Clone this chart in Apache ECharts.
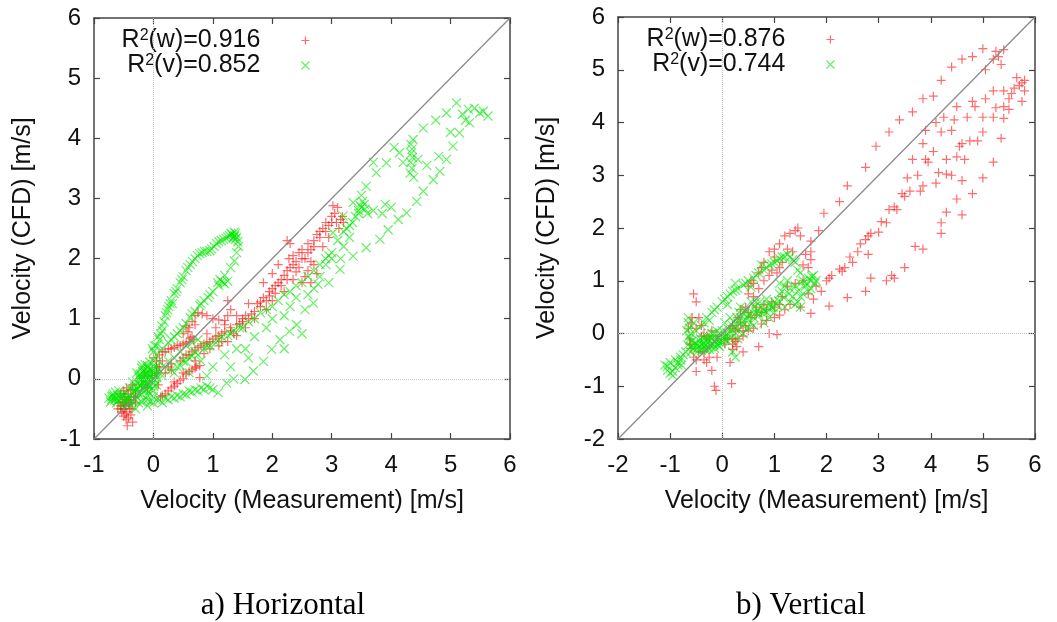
<!DOCTYPE html>
<html>
<head>
<meta charset="utf-8">
<script src="https://cdn.jsdelivr.net/npm/echarts@6/dist/echarts.min.js"></script>
<style>html,body{margin:0;padding:0;background:#fff;}#c{width:1057px;height:622px;}</style>
</head>
<body>
<div id="c"></div>
<script>
// ---------- data ----------
const seriesNames = ['w', 'v'];
const r2Left = [0.916, 0.852];
const r2Right = [0.876, 0.744];
const captions = ['a) Horizontal', 'b) Vertical'];
const xTitle = 'Velocity (Measurement) [m/s]';
const yTitle = 'Velocity (CFD) [m/s]';
const rangeLeft = [-1, 6];
const rangeRight = [-2, 6];

const leftW = [
[-0.55,-0.45],[-0.5,-0.5],[-0.45,-0.55],[-0.52,-0.38],[-0.48,-0.3],[-0.42,-0.42],[-0.4,-0.35],[-0.58,-0.4],
[-0.5,-0.62],[-0.46,-0.68],[-0.44,-0.78],[-0.38,-0.6],[-0.35,-0.72],[-0.36,-0.5],[-0.33,-0.3],[-0.3,-0.2],
[-0.38,-0.18],[-0.55,-0.25],[-0.6,-0.5],[-0.42,-0.25],[-0.35,-0.1],[-0.3,-0.4],[-0.47,-0.45],[-0.53,-0.55],
[-0.2,-0.1],[-0.15,0.05],[-0.1,-0.15],[0.0,0.05],[0.05,0.1],[0.1,0.2],[0.05,0.3],[0.0,0.35],[0.1,0.4],
[0.15,0.3],[0.2,0.1],[0.25,0.2],[0.3,0.15],[0.08,-0.1],[0.12,-0.3],[0.2,-0.25],[0.3,-0.15],[0.35,-0.05],
[0.4,-0.08],[0.5,0.0],[0.55,0.08],[0.6,0.12],[0.7,0.18],[0.78,0.22],[0.78,0.02],[0.45,0.3],[0.3,0.25],
[0.2,0.45],[0.3,0.5],[0.4,0.55],[0.5,0.58],[0.6,0.62],[0.65,0.7],[0.6,0.85],[0.65,0.95],[0.7,1.05],
[0.75,1.1],[0.82,1.08],[0.9,1.05],[1.0,1.0],[1.1,0.98],[1.2,0.97],[1.25,1.05],[1.3,1.15],[1.25,1.3],
[0.5,0.75],[0.55,0.88],[0.5,0.35],[0.6,0.4],[0.7,0.48],[0.8,0.55],[0.9,0.6],[1.0,0.66],[1.1,0.72],
[1.15,0.62],[1.2,0.78],[1.3,0.85],[1.35,0.75],[1.4,0.9],[1.5,0.95],[1.55,1.05],[1.6,1.0],[1.7,1.12],
[1.75,1.25],[1.8,1.2],[1.85,1.35],[1.9,1.3],[1.95,1.45],[2.0,1.5],[2.05,1.42],[2.1,1.6],[2.15,1.55],
[2.2,1.72],[2.25,1.65],[2.3,1.85],[2.28,2.0],[2.35,2.05],[2.4,1.95],[2.45,2.1],[2.5,2.15],[2.55,2.0],
[2.4,1.78],[2.6,2.25],[2.65,2.15],[2.7,2.3],[2.75,2.4],[2.8,2.35],[2.85,2.5],[2.9,2.45],[2.95,2.55],
[3.0,2.6],[3.05,2.75],[3.1,2.85],[3.02,2.88],[3.15,2.65],[3.2,2.6],[3.12,2.5],[2.95,2.35],[2.85,2.2],
[2.7,1.9],[2.6,1.8],[2.5,1.6],[2.65,1.6],[2.45,1.85],[2.75,1.75],[2.2,1.45],[2.0,1.3],[1.85,1.6],
[1.9,1.15],[1.7,1.0],[1.55,0.85],[1.4,0.72],[1.25,0.62],[1.1,0.55],[0.95,0.5],[0.85,0.42],[0.7,0.3],
[0.9,0.75],[1.05,0.85],[1.2,0.9],[1.4,1.05],[1.6,1.25],[2.3,2.25],[2.25,2.3],[2.0,1.75],[2.1,1.9],
[-0.5,-0.4],[-0.45,-0.35],[-0.4,-0.5],[-0.55,-0.5],[-0.48,-0.58],[-0.42,-0.65],[-0.38,-0.4],[-0.5,-0.2],
[-0.45,-0.15],[-0.3,-0.3],[0.05,0.2],[0.15,0.45],[0.25,0.5],[0.35,0.52],[0.45,0.56],[0.55,0.6],[0.62,0.68],
[0.68,0.65],[0.58,0.78],[0.7,0.9],[0.25,-0.2],[0.35,-0.12],[0.45,-0.02],[0.5,0.1],[0.65,0.15],[0.72,0.2],
[0.15,-0.28],[0.55,0.4],[0.65,0.45],[0.75,0.52],[0.85,0.58],[0.95,0.62],[1.05,0.7],[1.15,0.75],[1.3,0.8],
[1.45,0.92],[1.5,1.0],[1.65,1.08],[1.8,1.28],[1.95,1.38],[2.05,1.55],[2.15,1.65],[2.25,1.8],[2.35,1.9],
[2.5,2.0],[2.6,2.1],[2.7,2.2],[2.8,2.45],[2.9,2.6],[3.0,2.7],[3.08,2.6],[3.18,2.7],[2.55,1.7],[2.35,1.65],
[2.65,1.95]
];

const leftV = [
[-0.75,-0.32],[-0.7,-0.3],[-0.65,-0.35],[-0.6,-0.28],[-0.55,-0.33],[-0.5,-0.38],[-0.45,-0.42],[-0.4,-0.3],
[-0.35,-0.25],[-0.38,-0.45],[-0.62,-0.4],[-0.68,-0.25],[-0.58,-0.2],[-0.3,-0.35],[-0.5,-0.3],[-0.3,-0.5],
[-0.25,-0.15],[-0.2,-0.1],[-0.18,0.0],[-0.15,0.05],[-0.12,0.1],[-0.1,-0.05],[-0.08,0.0],[-0.05,0.08],
[-0.02,0.15],[0.0,0.1],[0.03,-0.02],[-0.22,0.08],[-0.15,-0.2],[-0.1,0.18],[-0.05,-0.12],[0.02,0.05],
[-0.2,-0.25],[-0.12,-0.08],[-0.08,0.12],[0.05,0.2],[-0.28,-0.05],[0.0,-0.2],[-0.15,0.15],[-0.3,-0.2],
[0.05,-0.1],[0.0,0.45],[0.02,0.55],[-0.02,0.5],[0.05,0.4],[0.0,0.3],
[0.1,0.65],[0.15,0.8],[0.18,0.95],[0.22,1.1],[0.26,1.2],[0.3,1.3],[0.35,1.42],[0.4,1.5],[0.45,1.6],
[0.5,1.7],[0.55,1.8],[0.62,1.9],[0.7,2.0],[0.78,2.08],[0.86,2.12],[0.95,2.13],[1.02,2.2],[1.1,2.28],
[1.18,2.32],[1.25,2.36],[1.32,2.4],[1.37,2.38],[1.4,2.35],[1.42,2.28],[1.43,2.2],[1.4,2.1],[1.36,1.96],
[0.12,0.75],[0.2,1.05],[0.32,1.25],[1.34,2.34],[1.38,2.42],
[1.3,1.85],[1.2,1.72],[1.15,1.62],[1.08,1.6],[1.2,1.58],[1.0,1.45],[0.92,1.35],[0.85,1.3],[0.78,1.22],
[0.7,1.12],[0.62,1.02],[0.55,0.92],[0.45,0.8],[0.35,0.7],[0.25,0.6],[0.15,0.5],
[-0.1,-0.35],[0.0,-0.4],[0.1,-0.35],[0.2,-0.32],[0.3,-0.3],[0.4,-0.28],[0.5,-0.25],[0.6,-0.2],[0.7,-0.18],
[0.8,-0.15],[0.9,-0.12],[1.0,-0.18],[1.09,-0.23],[1.23,-0.07],[1.35,0.0],[1.54,-0.01],[1.68,0.13],
[1.85,0.29],[1.99,0.49],[2.13,0.65],[2.29,0.79],[2.41,0.9],[2.55,1.15],[2.69,1.26],[2.77,1.57],[2.95,1.6],
[3.14,1.82],[3.36,2.04],[3.58,2.18],[3.81,2.32],[3.95,2.48],[4.12,2.65],[4.26,2.76],[4.43,2.95],[4.54,3.12],
[4.71,3.31],[4.82,3.45],[4.93,3.65],[5.04,3.87],[5.15,4.09],[5.32,4.26],[5.49,4.42],[5.63,4.37],[5.55,4.45],
[5.4,4.5],[5.3,4.48],[5.2,4.4],
[0.6,0.1],[0.8,0.3],[1.0,0.2],[1.2,0.4],[1.4,0.5],[1.55,0.5],[1.7,0.7],[1.9,0.85],[2.0,1.0],[2.2,1.05],
[2.3,1.2],[2.4,1.35],[2.6,1.4],[2.7,1.5],[2.8,1.7],[2.9,1.9],[3.0,2.0],[2.5,0.75],[2.2,0.5],[1.6,0.35],
[1.3,0.2],[0.9,0.05],
[0.3,0.15],[0.5,0.3],[0.7,0.45],[0.9,0.55],[1.1,0.65],[1.3,0.75],[1.5,0.85],[1.7,1.0],[1.9,1.15],[2.1,1.3],
[2.3,1.45],[2.5,1.6],[2.6,1.7],[2.8,1.9],[3.0,2.1],[3.1,2.3],[3.2,2.45],[3.3,2.55],[3.4,2.7],[3.5,2.85],
[3.55,2.9],[3.45,2.8],[3.6,2.75],[3.7,2.8],[3.85,2.75],[3.9,2.9],[4.0,2.85],[3.2,2.2],[3.3,2.35],[3.15,2.0],
[2.95,2.05],
[3.02,2.43],[3.19,2.71],[3.36,2.93],[3.58,3.2],[3.75,3.43],[3.92,3.59],[4.14,3.76],[4.37,3.98],[4.54,4.17],
[4.75,4.3],[4.93,4.42],[5.1,4.59],[3.5,3.05],[3.7,3.6],[4.05,3.85],[4.2,3.6],[4.45,3.65],[4.6,3.55],
[4.8,3.7],[5.0,4.1],[5.25,4.3],
[4.33,3.9],[4.35,3.82],[4.34,3.75],[4.36,3.68],[4.33,3.6],[4.35,3.5],[4.32,3.42],[4.38,3.35],
[-0.22,-0.02],[-0.18,0.12],[-0.14,-0.12],[-0.1,0.22],[-0.06,0.04],[-0.04,-0.18],[0.0,0.0],[0.02,0.18],
[-0.16,-0.04],[-0.24,0.02],[-0.26,-0.22],[-0.12,0.02],[-0.08,-0.22],[-0.2,0.18],[-0.02,-0.06],[0.04,0.12],
[-0.1,-0.28],[-0.18,-0.16],[-0.28,0.1],[-0.32,-0.12],[0.06,0.02],[-0.14,0.24],[-0.06,0.28],[0.08,0.3],
[0.1,0.15],[0.15,0.05],[0.2,0.2],[0.25,0.3],[0.35,0.35],[0.45,0.45],[0.55,0.55],[0.65,0.6],[0.75,0.65],
[0.4,0.2],[0.6,0.35],
[-0.72,-0.38],[-0.66,-0.3],[-0.6,-0.36],[-0.54,-0.26],[-0.48,-0.34],[-0.42,-0.36],[-0.46,-0.24],[-0.52,-0.44],
[-0.64,-0.22],[-0.7,-0.34],[-0.36,-0.38],[-0.33,-0.2],[-0.28,-0.3],[-0.25,-0.4],[-0.2,-0.38],[-0.15,-0.35],
[-0.05,-0.38],[0.05,-0.35],[0.15,-0.4],[0.25,-0.35],[0.35,-0.32],[0.45,-0.3],[0.55,-0.26],[0.65,-0.22],
[0.75,-0.2],[0.85,-0.18],[0.95,-0.15],[0.0,-0.3],[-0.1,-0.45],[-0.4,-0.15],[-0.35,-0.05],[-0.25,0.05],
[0.05,0.55],[0.08,0.7],[0.14,0.88],[0.24,1.15],[0.28,1.25],[0.38,1.45],[0.48,1.65],[0.58,1.85],[0.66,1.95],
[0.74,2.05],[0.82,2.1],[0.9,2.12],[0.98,2.16],[1.06,2.25],[1.14,2.3],[1.22,2.34],[1.28,2.38],[1.35,2.36],
[1.38,2.32],[1.3,2.42],[1.36,2.44],
[1.12,1.65],[1.18,1.6],[1.25,1.62],[1.1,1.55],[0.95,1.4],[0.8,1.25],[0.65,1.08],[0.5,0.85],[0.4,0.75],[0.3,0.65],
[0.35,0.1],[0.45,0.22],[0.55,0.28],[0.65,0.38],[0.75,0.4],[0.85,0.5],[0.95,0.55],[1.05,0.6],[1.15,0.7],
[1.25,0.72],[1.35,0.8],[1.45,0.85],[1.6,0.95],[1.8,1.1],[2.0,1.2],[2.2,1.4],[2.4,1.55],[2.7,1.8],[2.9,2.0],
[3.25,2.5],[3.35,2.6],[3.45,2.75],[3.52,2.95],[3.48,2.88],[3.56,2.82],
[-0.21,0.05],[-0.17,-0.07],[-0.13,0.07],[-0.09,-0.1],[-0.03,0.02],[0.01,-0.12],[-0.19,0.22],[-0.07,0.16],
[-0.23,-0.1],[-0.11,-0.18],[0.03,0.08],[-0.27,-0.17],[-0.57,-0.3],[-0.63,-0.32],[-0.69,-0.28],[-0.44,-0.32]
];

const rightW = [
[5.0,5.4],[5.25,5.35],[5.4,5.38],[5.3,5.25],[5.2,5.2],[4.8,5.25],[4.6,5.2],[4.4,5.05],[5.05,5.0],[5.35,5.1],
[4.2,4.8],[3.85,4.45],[4.05,4.5],[3.65,4.2],[3.4,4.05],[3.2,3.82],[2.95,3.55],[2.75,3.15],[2.4,2.8],[2.25,2.5],
[1.95,2.28],[5.8,4.8],[5.75,4.75],[5.7,4.7],[5.6,4.65],[5.65,4.85],[5.8,4.6],[5.5,4.45],[5.4,4.3],[5.55,4.55],
[5.75,4.4],[5.5,4.25],[5.2,4.1],[5.0,4.1],[5.25,4.28],[5.4,4.08],[5.2,4.6],[5.4,4.6],[4.8,4.4],[4.85,4.3],
[5.05,4.45],[5.35,3.7],[5.0,3.82],[4.9,3.65],[4.7,4.1],[4.5,4.3],[4.45,4.05],[4.4,3.85],[4.25,4.1],[4.2,3.82],
[4.1,4.0],[4.05,3.45],[3.9,3.85],[3.85,3.6],[3.9,3.3],[3.65,3.3],[3.75,3.0],[3.95,3.25],[4.15,3.05],[4.1,2.85],
[4.3,3.3],[4.5,3.35],[4.55,3.55],[4.6,3.6],[4.65,3.3],[4.75,3.65],[4.4,3.0],[4.3,3.02],[4.6,2.9],[5.0,2.95],
[5.2,3.25],[4.8,2.65],[4.5,2.55],[4.3,2.3],[4.6,2.25],[4.2,2.1],[4.2,1.9],[3.85,1.6],[3.7,1.65],[3.5,1.25],
[3.3,1.05],[3.15,1.0],[2.75,0.8],[2.4,0.68],[2.05,0.52],[3.55,2.95],[3.45,2.65],[3.5,2.6],[3.6,2.7],[3.8,2.7],
[3.85,2.8],[3.35,2.35],[3.3,2.4],[3.2,2.35],[3.15,2.1],[3.05,2.12],[3.0,1.92],[2.8,1.85],[2.75,1.78],[2.85,1.9],
[2.8,1.5],[2.6,1.55],[2.65,1.7],[2.5,1.35],[2.45,1.45],[2.35,1.25],[2.25,1.22],[2.3,1.18],[2.05,1.05],[2.1,1.1],
[2.0,1.0],[2.85,1.05],[3.25,1.1],[1.8,0.9],[1.9,0.8],[1.75,0.65],[1.65,0.75],[1.85,1.95],[1.7,1.75],[1.7,1.55],
[1.6,1.5],[1.7,1.4],[1.65,1.25],[1.55,1.3],[1.45,2.0],[1.4,1.95],[1.3,1.9],[1.2,1.85],[1.1,1.7],[1.0,1.6],
[0.9,1.55],[1.0,1.45],[0.8,1.35],[0.75,1.25],[0.7,1.15],[0.9,1.1],[1.05,1.15],[0.55,1.0],[0.6,0.95],[0.5,0.9],
[0.7,0.85],[1.7,0.38],[1.5,0.5],[1.3,0.55],[1.2,0.45],[1.1,0.35],[1.0,0.3],[0.85,0.25],[0.75,0.18],[0.7,-0.25],
[1.05,-0.02],[0.9,0.0],[0.6,0.1],[0.5,0.05],[0.4,-0.05],[0.3,-0.1],[0.25,-0.15],[0.2,-0.2],[0.35,0.2],[0.25,0.05],
[0.15,0.1],[0.1,-0.1],[0.05,-0.2],[-0.1,-0.45],[-0.15,-1.0],[-0.12,-1.08],[0.18,-0.95],[-0.2,-0.7],[0.15,-0.55],
[-0.3,-0.55],[-0.35,-0.5],[-0.45,-0.35],[-0.5,-0.72],[-0.55,-0.45],[-0.6,-0.28],[-0.62,-0.1],[-0.65,0.1],
[-0.6,0.2],[-0.58,0.3],[-0.55,0.75],[-0.5,0.6],[-0.45,0.3],[-0.5,0.1],[-0.4,0.15],[-0.35,0.0],[-0.3,-0.05],
[-0.2,0.05],[-0.1,-0.05],[0.0,-0.1],[0.3,0.3],[0.5,0.4],[0.45,0.5],[0.65,0.5],[0.8,0.55],[0.95,0.6],[1.15,0.7],
[1.25,0.9],[1.4,0.95],[1.55,1.0],[1.35,1.55],[1.5,1.85],[1.15,1.35],[0.4,-0.35],[0.2,-0.3],
[-0.4,-0.05],[-0.25,-0.1],[0.05,0.0],[0.2,0.15],[0.3,0.1],[0.45,0.15],[0.55,0.3],[0.65,0.35],[0.75,0.4],
[0.85,0.45],[1.0,0.5],[1.1,0.55],[0.2,-0.1],[0.28,-0.25],[-0.62,-0.2],[-0.5,-0.5],[-0.35,-0.35],[-0.25,-0.45],
[0.4,0.05],[0.35,0.45],[0.6,0.7],[0.8,1.0],[0.95,1.2],[1.1,1.25],[1.25,1.6],[0.5,0.75]
];

const rightV = [
[-1.1,-0.6],[-1.05,-0.7],[-1.0,-0.75],[-0.95,-0.8],[-0.9,-0.65],[-0.85,-0.55],[-0.8,-0.45],[-0.75,-0.4],
[-0.7,-0.35],[-0.78,-0.6],[-0.9,-0.5],[-1.0,-0.55],
[-0.65,0.3],[-0.65,0.2],[-0.63,0.1],[-0.6,0.0],[-0.62,-0.1],[-0.58,-0.15],[-0.55,0.2],[-0.5,0.05],
[-0.6,-0.25],[-0.55,-0.2],[-0.5,-0.3],[-0.45,-0.25],[-0.4,-0.2],[-0.35,-0.25],[-0.3,-0.15],[-0.25,-0.2],
[-0.2,-0.1],[-0.15,-0.15],[-0.1,-0.2],[-0.05,-0.1],[0.0,-0.15],[0.05,-0.05],[0.1,0.0],[-0.25,-0.3],
[-0.35,-0.1],[-0.15,-0.28],[-0.4,-0.32],[-0.2,0.0],[-0.1,0.05],[0.0,0.05],[0.15,-0.1],[0.2,0.05],
[0.25,0.1],[0.3,0.05],[-0.3,-0.3],[-0.05,-0.25],
[0.2,0.15],[0.3,0.2],[0.35,0.3],[0.4,0.15],[0.45,0.25],[0.5,0.35],[0.55,0.2],[0.6,0.3],[0.65,0.4],
[0.7,0.35],[0.75,0.5],[0.8,0.45],[0.85,0.4],[0.9,0.55],[0.95,0.5],[1.0,0.6],[1.05,0.55],[1.1,0.75],
[1.15,0.8],[1.2,0.9],[1.1,0.95],[1.25,1.0],[1.3,0.85],[1.4,0.9],[1.45,0.8],[1.5,0.95],[1.55,1.0],
[1.6,0.9],[1.65,1.05],[1.7,1.0],[1.75,1.1],[1.8,1.0],[1.7,0.85],[1.45,0.6],[1.5,0.7],[1.3,0.6],[1.2,0.5],
[1.0,0.4],[0.9,0.3],[0.8,0.2],[0.6,0.15],[0.5,0.1],[0.4,0.0],[0.3,-0.1],[0.25,-0.45],[0.2,-0.35],
[0.35,0.5],[0.55,0.6],[0.45,0.45],[0.65,0.6],[0.85,0.65],[1.4,0.55],[1.5,0.5],
[-0.4,0.15],[-0.3,0.3],[-0.2,0.4],[-0.1,0.5],[0.0,0.6],[0.1,0.7],[0.2,0.8],[0.3,0.85],[0.4,0.92],
[0.5,1.0],[0.6,1.05],[0.7,1.15],[0.8,1.2],[0.9,1.3],[1.0,1.35],[1.1,1.42],[1.2,1.45],[1.25,1.5],
[1.3,1.45],[1.4,1.35],[1.45,1.2],[1.5,1.15],[0.25,0.95],[0.55,0.88],[0.75,1.3],[-0.25,0.25],[0.1,0.55],
[-0.55,-0.28],[-0.45,-0.32],[-0.38,-0.28],[-0.32,-0.22],[-0.28,-0.12],[-0.22,-0.25],[-0.18,-0.2],[-0.12,-0.12],
[-0.08,-0.22],[-0.02,-0.18],[0.02,-0.08],[0.08,-0.12],[-0.5,-0.18],[-0.42,-0.1],[-0.3,-0.05],[-0.22,-0.05],
[-0.15,0.0],[-0.05,0.0],[0.12,0.08],[0.18,-0.02],[-0.6,-0.35],[-0.66,-0.22],[-0.68,0.05],[-0.64,-0.05],
[0.22,0.22],[0.28,0.3],[0.38,0.22],[0.48,0.3],[0.58,0.4],[0.68,0.45],[0.78,0.38],[0.88,0.48],[0.98,0.5],
[1.08,0.62],[1.18,0.68],[1.28,0.75],[1.35,0.7],[1.62,0.95],[1.72,1.08],[1.78,0.95],[1.66,0.8],[1.55,0.75],
[0.72,0.6],[0.62,0.5],[0.42,0.38],[0.32,0.4],[0.15,0.3],[0.05,0.2],
[-0.35,0.2],[-0.15,0.45],[0.05,0.65],[0.15,0.75],[0.25,0.82],[0.45,0.95],[0.65,1.1],[0.85,1.25],[0.95,1.32],
[1.05,1.38],[1.15,1.45],[1.35,1.4],
[-0.95,-0.72],[-1.05,-0.62],[-0.85,-0.6],[-0.8,-0.5],
[-0.48,-0.22],[-0.36,-0.18],[-0.26,-0.26],[-0.16,-0.22],[-0.06,-0.16],[0.04,-0.1],[-0.44,-0.14],[-0.34,-0.3]
];

// ---------- styles ----------
const PLUS = 'path://M5,0L5,10M0,5L10,5';
const CROSS = 'path://M0,0L10,10M10,0L0,10';
const RED = 'rgba(255,0,0,0.72)';
const GREEN = 'rgba(0,230,0,0.75)';
const FRAME = '#444';
const FONT = 'Liberation Sans';

function xAxes(range, gridIndex) {
  const common = {
    type: 'value', gridIndex: gridIndex, min: range[0], max: range[1], interval: 1,
    axisLine: {show: true, onZero: false, lineStyle: {color: FRAME, width: 1.5}},
    axisTick: {show: true, inside: true, length: 6, lineStyle: {color: FRAME, width: 1.2}},
    splitLine: {show: false}
  };
  return [
    Object.assign({}, common, {position: 'bottom',
      axisLabel: {color: '#111', fontSize: 24, fontFamily: FONT, margin: 14},
      name: xTitle, nameLocation: 'middle', nameGap: 50,
      nameTextStyle: {color: '#111', fontSize: 25, fontFamily: FONT}}),
    Object.assign({}, common, {position: 'top', axisLabel: {show: false}})
  ];
}
function yAxes(range, gridIndex) {
  const common = {
    type: 'value', gridIndex: gridIndex, min: range[0], max: range[1], interval: 1,
    axisLine: {show: true, onZero: false, lineStyle: {color: FRAME, width: 1.5}},
    axisTick: {show: true, inside: true, length: 6, lineStyle: {color: FRAME, width: 1.2}},
    splitLine: {show: false}
  };
  return [
    Object.assign({}, common, {position: 'left',
      axisLabel: {color: '#111', fontSize: 24, fontFamily: FONT, margin: 13},
      name: yTitle, nameLocation: 'middle', nameGap: 58,
      nameTextStyle: {color: '#111', fontSize: 25, fontFamily: FONT}}),
    Object.assign({}, common, {position: 'right', axisLabel: {show: false}})
  ];
}

function refLines(range) {
  return {
    silent: true, symbol: 'none', animation: false, label: {show: false},
    data: [
      {xAxis: 0, lineStyle: {type: 'dotted', color: '#c4c4c4', width: 1}},
      {yAxis: 0, lineStyle: {type: 'dotted', color: '#c4c4c4', width: 1}},
      [{coord: [range[0], range[0]], lineStyle: {type: 'solid', color: '#888', width: 1.2}},
       {coord: [range[1], range[1]]}]
    ]
  };
}

function scatter(name, data, idx, symbol, color, extra) {
  return Object.assign({
    type: 'scatter', name: name, data: data, xAxisIndex: idx, yAxisIndex: idx,
    symbol: symbol, symbolSize: 9,
    itemStyle: {color: 'transparent', borderColor: color, borderWidth: 1.2},
    emphasis: {disabled: true}
  }, extra || {});
}

function legendFor(r2, rightPos, topPos, names) {
  return {
    orient: 'vertical', align: 'right', right: rightPos, top: topPos,
    itemWidth: 8, itemHeight: 8, itemGap: 0, selectedMode: false,
    data: [
      {name: names[0], icon: PLUS, itemStyle: {color: 'transparent', borderColor: RED, borderWidth: 1.2}},
      {name: names[1], icon: CROSS, itemStyle: {color: 'transparent', borderColor: GREEN, borderWidth: 1.2}}
    ],
    formatter: function (n) {
      const i = names.indexOf(n);
      return 'R{s|2}(' + seriesNames[i] + ')=' + r2[i].toFixed(3);
    },
    textStyle: {color: '#111', fontSize: 25, fontFamily: FONT, lineHeight: 25, padding: [0, 36, 0, 0],
      rich: {s: {fontSize: 16, fontFamily: FONT, lineHeight: 14, verticalAlign: 'top', color: '#111'}}}
  };
}

const chart = echarts.init(document.getElementById('c'), null, {renderer: 'canvas'});
chart.setOption({
  animation: false,
  backgroundColor: '#fff',
  grid: [
    {left: 94, top: 18, width: 416, height: 421},
    {left: 618, top: 17, width: 417, height: 422}
  ],
  xAxis: xAxes(rangeLeft, 0).concat(xAxes(rangeRight, 1)),
  yAxis: yAxes(rangeLeft, 0).concat(yAxes(rangeRight, 1)),
  legend: [
    legendFor(r2Left, 1057 - 315, 23, ['wL', 'vL']),
    legendFor(r2Right, 1057 - 840, 22, ['wR', 'vR'])
  ],
  title: [
    {text: captions[0], left: 278, top: 585, textAlign: 'center',
     textStyle: {fontFamily: 'Liberation Serif', fontWeight: 'normal', fontSize: 31, color: '#000'}},
    {text: captions[1], left: 796, top: 585, textAlign: 'center',
     textStyle: {fontFamily: 'Liberation Serif', fontWeight: 'normal', fontSize: 31, color: '#000'}}
  ],
  series: [
    scatter('wL', leftW, 0, PLUS, RED, {markLine: refLines(rangeLeft)}),
    scatter('vL', leftV, 0, CROSS, GREEN),
    scatter('wR', rightW, 2, PLUS, RED, {markLine: refLines(rangeRight)}),
    scatter('vR', rightV, 2, CROSS, GREEN)
  ]
});
</script>
</body>
</html>
